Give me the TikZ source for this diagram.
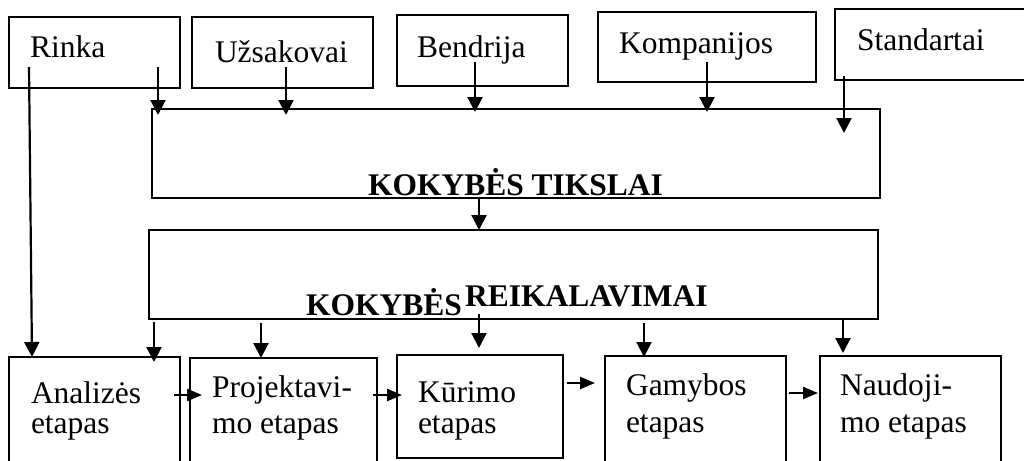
\documentclass[tikz,border=0pt]{standalone}
\usepackage{fontspec}
\setmainfont{Liberation Serif}
\usetikzlibrary{arrows.meta}

\tikzset{
  box/.style={draw, line width=1.5pt, inner sep=0pt, outer sep=0pt, anchor=north west},
  lbl/.style={inner sep=0pt, outer sep=0pt, anchor=base west,
              font=\fontsize{31.5}{31.5}\selectfont},
  blbl/.style={lbl, font=\fontsize{31.5}{31.5}\selectfont\bfseries},
  arr/.style={line width=2.2pt, -{Triangle[length=15pt,width=15pt]}},
  harr/.style={line width=2.2pt, -{Triangle[length=15pt,width=12pt]}}
}

\begin{document}
\begin{tikzpicture}[x=1pt,y=-1pt]
\useasboundingbox (0,0) rectangle (1024,460);
\clip (0,0) rectangle (1024,460);

% sources
\node[box, minimum width=171pt, minimum height=71pt] (rinka) at (9,17) {};
\node[box, minimum width=181pt, minimum height=71pt] (uzs)   at (192,17) {};
\node[box, minimum width=171pt, minimum height=71pt] (bend)  at (397,15) {};
\node[box, minimum width=218pt, minimum height=70pt] (komp)  at (598,12) {};
\node[box, minimum width=210pt, minimum height=71pt] (stand) at (835,9) {};

\node[lbl] (trinka) at (30,58)  {Rinka};
\node[lbl] (tuzs)   at (215,63) {Užsakovai};
\node[lbl] (tbend)  at (417,57) {Bendrija};
\node[lbl] (tkomp)  at (619,53) {Kompanijos};
\node[lbl] (tstand) at (857,51) {Standartai};

% goals and requirements
\node[box, minimum width=728pt, minimum height=89pt] (tiks) at (152,109) {};
\node[blbl] (ttiks) at (368,195) {KOKYBĖS TIKSLAI};

\node[box, minimum width=729pt, minimum height=89pt] (reik) at (149,230) {};
\node[blbl] (treik1) at (306,315) {KOKYBĖS};
\node[blbl] (treik2) at (465,306) {REIKALAVIMAI};

% life-cycle stages
\node[box, minimum width=171pt, minimum height=130pt] (anal) at (9,357) {};
\node[box, minimum width=187pt, minimum height=130pt] (proj) at (190,358) {};
\node[box, minimum width=166pt, minimum height=103pt] (kur)  at (397,355) {};
\node[box, minimum width=181pt, minimum height=130pt] (gam)  at (605,356) {};
\node[box, minimum width=181pt, minimum height=130pt] (naud) at (820,356) {};

\node[lbl] (tanal1) at (31,403)  {Analizės};
\node[lbl] (tanal2) at (31,433)  {etapas};
\node[lbl] (tproj1) at (212,397) {Projektavi-};
\node[lbl] (tproj2) at (212,433) {mo etapas};
\node[lbl] (tkur1)  at (418,402) {Kūrimo};
\node[lbl] (tkur2)  at (418,433) {etapas};
\node[lbl] (tgam1)  at (626,395) {Gamybos};
\node[lbl] (tgam2)  at (626,432) {etapas};
\node[lbl] (tnaud1) at (840,395) {Naudoji-};
\node[lbl] (tnaud2) at (840,432) {mo etapas};

% sources -> goals
\draw[arr] ([xshift=20pt,yshift=21pt]rinka.south west) -- ([xshift=23pt]anal.north west);
\draw[arr] ([xshift=149pt,yshift=21pt]rinka.south west) -- ([xshift=6pt,yshift=-6pt]tiks.north west);
\draw[arr] ([xshift=94pt,yshift=21pt]uzs.south west) -- ([xshift=134pt,yshift=-6pt]tiks.north west);
\draw[arr] ([xshift=78pt,yshift=24pt]bend.south west) -- ([xshift=323pt,yshift=-3pt]tiks.north west);
\draw[arr] ([xshift=109pt,yshift=20pt]komp.south west) -- ([xshift=555pt,yshift=-3pt]tiks.north west);
\draw[arr] ([xshift=9pt,yshift=4pt]stand.south west) -- ([xshift=692pt,yshift=-24pt]tiks.north west);

% goals -> requirements
\draw[arr] ([xshift=327pt,yshift=1pt]tiks.south west) -- ([xshift=330pt]reik.north west);

% requirements -> stages
\draw[arr] ([xshift=5pt,yshift=-3pt]reik.south west) -- ([xshift=145pt,yshift=-5pt]anal.north west);
\draw[arr] ([xshift=112pt,yshift=-4pt]reik.south west) -- ([xshift=71pt]proj.north west);
\draw[arr] ([xshift=330pt,yshift=5pt]reik.south west) -- ([xshift=82pt,yshift=7pt]kur.north west);
\draw[arr] ([xshift=495pt,yshift=-4pt]reik.south west) -- ([xshift=39pt,yshift=-1pt]gam.north west);
\draw[arr] ([xshift=694pt,yshift=-1pt]reik.south west) -- ([xshift=23pt,yshift=3pt]naud.north west);

% stage sequence
\draw[harr] ([xshift=-6pt,yshift=-38pt]anal.north east) -- ([xshift=12pt,yshift=-37pt]proj.north west);
\draw[harr] ([xshift=-4pt,yshift=-37pt]proj.north east) -- ([xshift=5pt,yshift=-40pt]kur.north west);
\draw[harr] ([xshift=4pt,yshift=-28pt]kur.north east) -- ([xshift=-10pt,yshift=-27pt]gam.north west);
\draw[harr] ([xshift=3pt,yshift=-37pt]gam.north east) -- ([xshift=-2pt,yshift=-37pt]naud.north west);
\end{tikzpicture}
\end{document}
